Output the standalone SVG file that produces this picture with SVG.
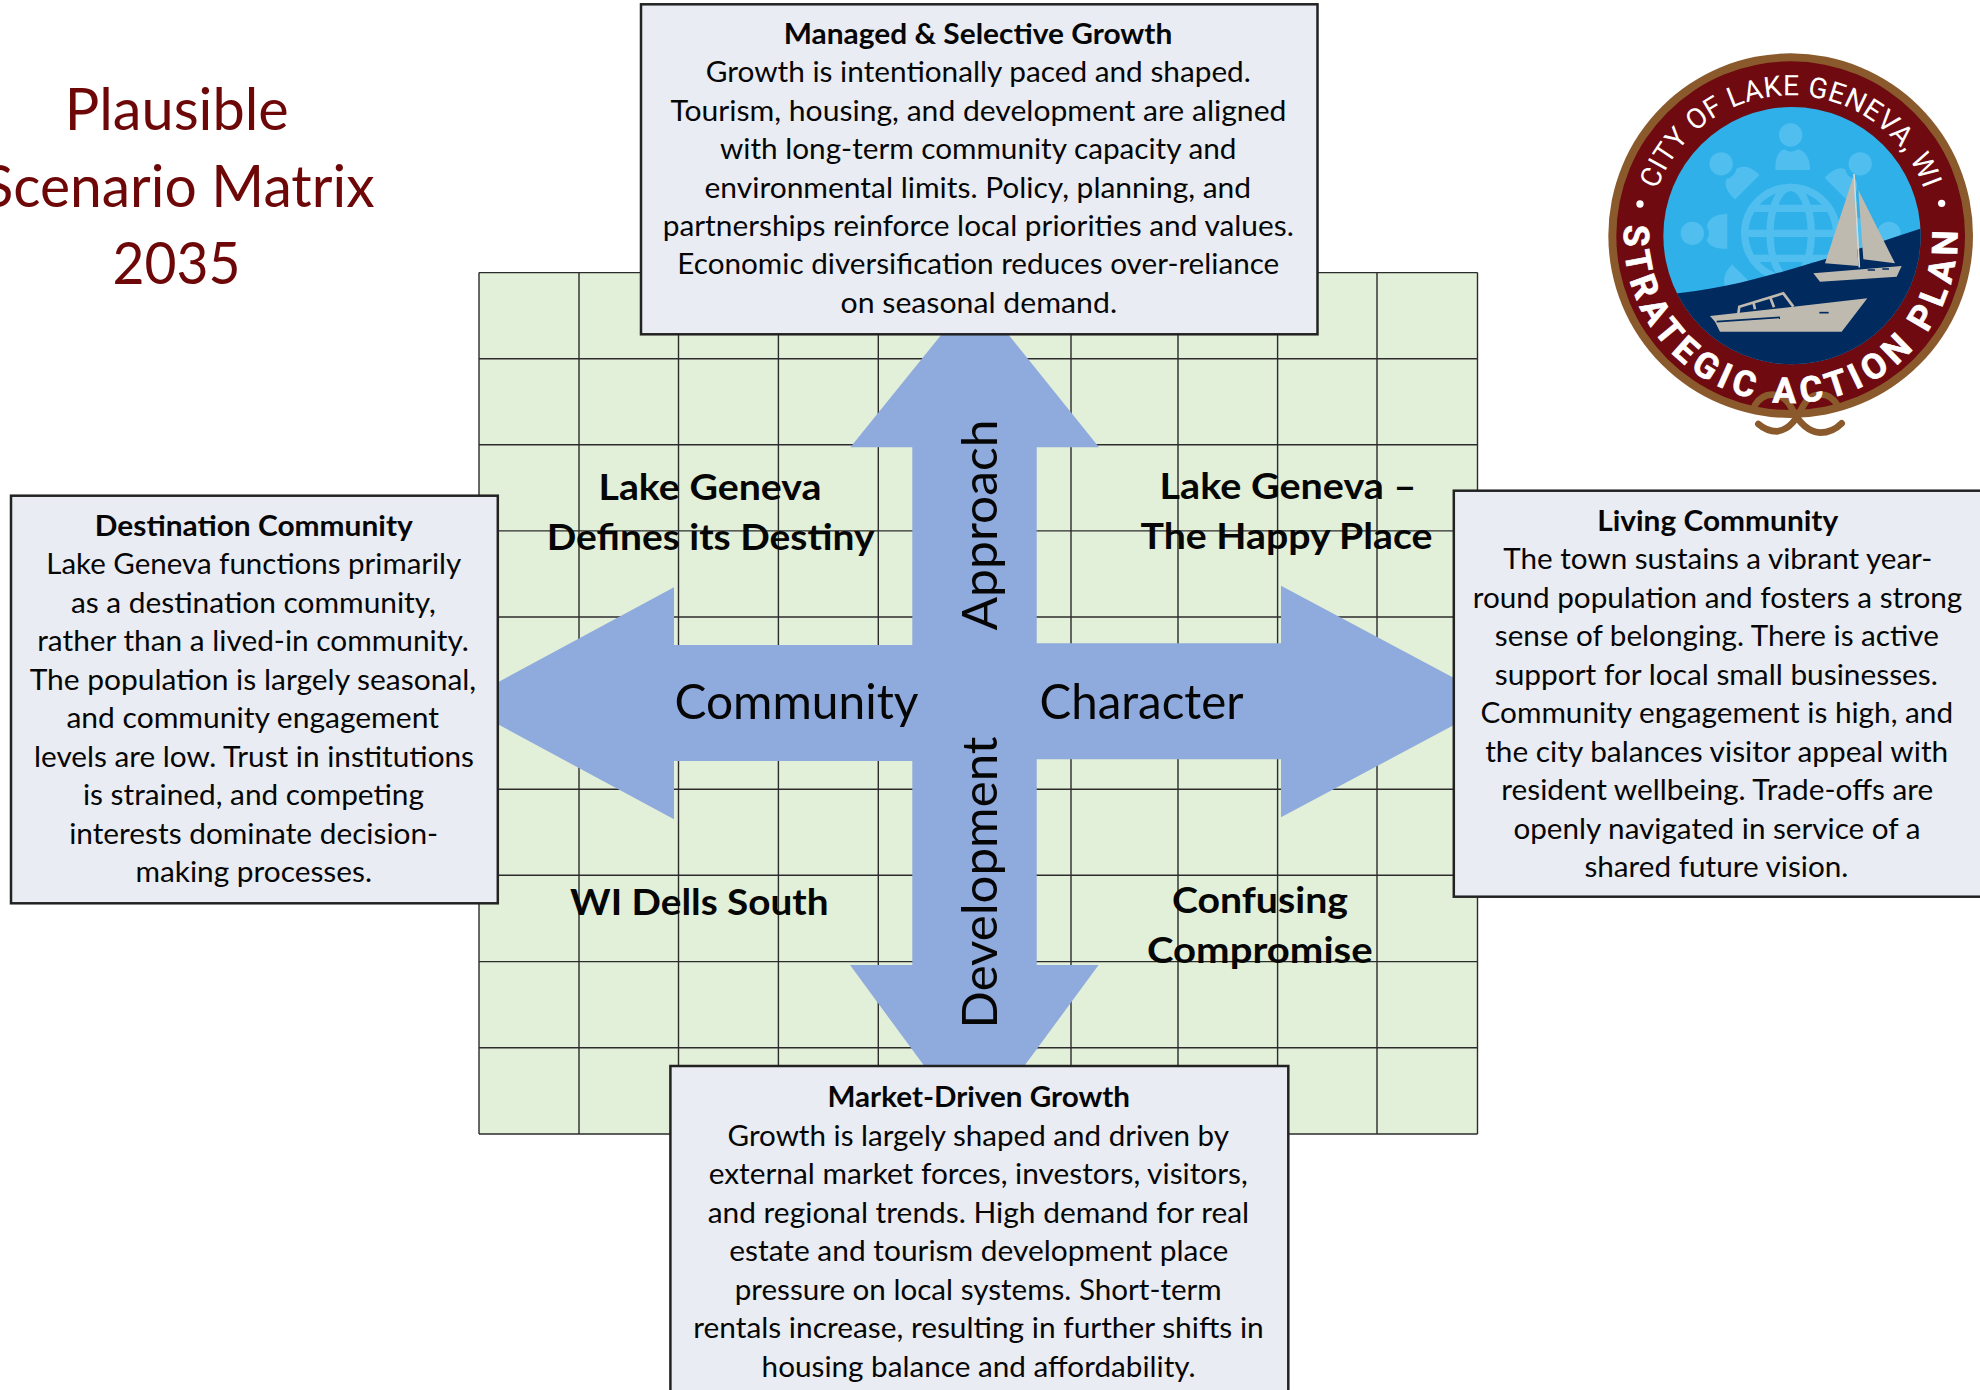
<svg xmlns="http://www.w3.org/2000/svg" width="1980" height="1390" viewBox="0 0 1980 1390">
<style>
text{font-family:"Lato","Carlito","Liberation Sans",sans-serif;fill:#060606;text-anchor:middle}
.b{font-size:28.3px}
.t{font-size:28.3px;font-weight:700}
.q{font-size:36px;font-weight:700}
.a{font-size:49px}
.h{font-size:58px;fill:#6e0808}
.box{fill:#e9ecf2;stroke:#222;stroke-width:2.5}
.g{stroke:#2c2c2c;stroke-width:1.4;fill:none}
.ic{fill:#50bff0}
.sg{fill:#bfbab0}
.rope{fill:none;stroke:#8a5a2c;stroke-linecap:round}
.lg{font-family:"Roboto","Liberation Sans",sans-serif;fill:#fff;text-anchor:middle}
</style>
<defs>
<g id="person"><circle cx="632" cy="315" r="35"/><path d="M586 420 Q584 368 612 358 Q632 372 654 358 Q690 368 690 420 Z"/></g>
<clipPath id="inner"><circle cx="636" cy="617" r="386"/></clipPath>
<path id="arcTop" d="M209 580 A425 425 0 0 1 1055 580"/>
<path id="arcBot" d="M137 548 A500 500 0 1 0 1127 548"/>
</defs>

<text class="h" x="176.8" y="130" textLength="224" lengthAdjust="spacingAndGlyphs">Plausible</text>
<text class="h" x="178.5" y="206.7" textLength="392" lengthAdjust="spacingAndGlyphs">Scenario Matrix</text>
<text class="h" x="176.4" y="284" textLength="128" lengthAdjust="spacingAndGlyphs">2035</text>

<g id="grid">
<rect x="479" y="272.6" width="998.5" height="861.4" fill="#e2efd9"/>
<path class="g" d="M479 272.6H1477.5M479 358.7H1477.5M479 444.8H1477.5M479 530.9H1477.5M479 617H1477.5M479 703H1477.5M479 789.2H1477.5M479 875.3H1477.5M479 961.6H1477.5M479 1047.7H1477.5M479 1134H1477.5"/>
<path class="g" d="M479 272.6V1134M579 272.6V1134M678.5 272.6V1134M778.4 272.6V1134M878.3 272.6V1134M978 272.6V1134M1071 272.6V1134M1178 272.6V1134M1277.6 272.6V1134M1377 272.6V1134M1477.5 272.6V1134"/>
</g>

<g id="connectors" fill="#8faadc">
<path d="M912.3 447.3H850.4L975 293L1099 447.3H1036.7V643.3H1281V585.7L1498 701.5L1281 817.3V759.3H1036.7V965H1098.6L974.3 1134L850 965H912.3V761H674V819.3L459 703.3L674 587.3V645H912.3Z"/>
</g>

<g id="axis-labels">
<text class="a" x="796.5" y="719" textLength="244" lengthAdjust="spacingAndGlyphs">Community</text>
<text class="a" x="1141.5" y="719" textLength="204" lengthAdjust="spacingAndGlyphs">Character</text>
<text class="a" transform="translate(996.5 525) rotate(-90)" textLength="211" lengthAdjust="spacingAndGlyphs">Approach</text>
<text class="a" transform="translate(996.5 882.5) rotate(-90)" textLength="292" lengthAdjust="spacingAndGlyphs">Development</text>
</g>

<g id="quadrant-nw" transform="translate(0 .6)">
<text class="q" x="710" y="499.3" textLength="223" lengthAdjust="spacingAndGlyphs">Lake Geneva</text>
<text class="q" x="710.6" y="549" textLength="327.7" lengthAdjust="spacingAndGlyphs">Defines its Destiny</text>
</g>
<g id="quadrant-ne" transform="translate(0 .6)">
<text class="q" x="1288" y="498.5" textLength="256.8" lengthAdjust="spacingAndGlyphs">Lake Geneva –</text>
<text class="q" x="1286.5" y="548" textLength="292" lengthAdjust="spacingAndGlyphs">The Happy Place</text>
</g>
<g id="quadrant-sw" transform="translate(0 .6)">
<text class="q" x="699.3" y="914.3" textLength="258.4" lengthAdjust="spacingAndGlyphs">WI Dells South</text>
</g>
<g id="quadrant-se" transform="translate(0 .6)">
<text class="q" x="1260" y="912.7" textLength="176" lengthAdjust="spacingAndGlyphs">Confusing</text>
<text class="q" x="1259.8" y="962.3" textLength="225.7" lengthAdjust="spacingAndGlyphs">Compromise</text>
</g>

<g id="node-top">
<rect class="box" x="641" y="4.3" width="676.5" height="330"/>
<g transform="translate(0 .8)">
<text class="t" x="978" y="43.3" textLength="388.5" lengthAdjust="spacingAndGlyphs">Managed &amp; Selective Growth</text>
<text class="b" x="978.3" y="81.7" textLength="545" lengthAdjust="spacingAndGlyphs">Growth is intentionally paced and shaped.</text>
<text class="b" x="978.4" y="120.1" textLength="616" lengthAdjust="spacingAndGlyphs">Tourism, housing, and development are aligned</text>
<text class="b" x="978.2" y="158.5" textLength="516.5" lengthAdjust="spacingAndGlyphs">with long-term community capacity and</text>
<text class="b" x="977.8" y="196.9" textLength="546.5" lengthAdjust="spacingAndGlyphs">environmental limits. Policy, planning, and</text>
<text class="b" x="978.2" y="235.3" textLength="631" lengthAdjust="spacingAndGlyphs">partnerships reinforce local priorities and values.</text>
<text class="b" x="978.3" y="273.7" textLength="602" lengthAdjust="spacingAndGlyphs">Economic diversification reduces over-reliance</text>
<text class="b" x="978.8" y="312.1" textLength="276.5" lengthAdjust="spacingAndGlyphs">on seasonal demand.</text>
</g>
</g>

<g id="node-left">
<rect class="box" x="11" y="495.7" width="486.8" height="407.6"/>
<g transform="translate(0 .8)">
<text class="t" x="253.8" y="535" textLength="318" lengthAdjust="spacingAndGlyphs">Destination Community</text>
<text class="b" x="253.8" y="573.3" textLength="415" lengthAdjust="spacingAndGlyphs">Lake Geneva functions primarily</text>
<text class="b" x="253.4" y="611.8" textLength="365" lengthAdjust="spacingAndGlyphs">as a destination community,</text>
<text class="b" x="253" y="650.3" textLength="431.5" lengthAdjust="spacingAndGlyphs">rather than a lived-in community.</text>
<text class="b" x="252.9" y="688.8" textLength="446.5" lengthAdjust="spacingAndGlyphs">The population is largely seasonal,</text>
<text class="b" x="252.7" y="727.3" textLength="372.5" lengthAdjust="spacingAndGlyphs">and community engagement</text>
<text class="b" x="254" y="765.8" textLength="440" lengthAdjust="spacingAndGlyphs">levels are low. Trust in institutions</text>
<text class="b" x="253.4" y="804.3" textLength="341" lengthAdjust="spacingAndGlyphs">is strained, and competing</text>
<text class="b" x="253.7" y="842.8" textLength="369" lengthAdjust="spacingAndGlyphs">interests dominate decision-</text>
<text class="b" x="253.7" y="881.3" textLength="236.5" lengthAdjust="spacingAndGlyphs">making processes.</text>
</g>
</g>

<g id="node-right">
<rect class="box" x="1453.8" y="490.7" width="540" height="406"/>
<g transform="translate(0 .8)">
<text class="t" x="1717.7" y="530" textLength="241" lengthAdjust="spacingAndGlyphs">Living Community</text>
<text class="b" x="1717.8" y="568.3" textLength="429" lengthAdjust="spacingAndGlyphs">The town sustains a vibrant year-</text>
<text class="b" x="1717.5" y="606.8" textLength="489.5" lengthAdjust="spacingAndGlyphs">round population and fosters a strong</text>
<text class="b" x="1716.8" y="645.3" textLength="444" lengthAdjust="spacingAndGlyphs">sense of belonging. There is active</text>
<text class="b" x="1716.3" y="683.8" textLength="443" lengthAdjust="spacingAndGlyphs">support for local small businesses.</text>
<text class="b" x="1716.8" y="722.3" textLength="472.5" lengthAdjust="spacingAndGlyphs">Community engagement is high, and</text>
<text class="b" x="1716.7" y="760.8" textLength="463" lengthAdjust="spacingAndGlyphs">the city balances visitor appeal with</text>
<text class="b" x="1717.3" y="799.3" textLength="432" lengthAdjust="spacingAndGlyphs">resident wellbeing. Trade-offs are</text>
<text class="b" x="1716.9" y="837.8" textLength="407" lengthAdjust="spacingAndGlyphs">openly navigated in service of a</text>
<text class="b" x="1716.4" y="876.3" textLength="264" lengthAdjust="spacingAndGlyphs">shared future vision.</text>
</g>
</g>

<g id="node-bottom">
<rect class="box" x="670.4" y="1066" width="617.9" height="340"/>
<g transform="translate(0 .8)">
<text class="t" x="978.7" y="1106.7" textLength="302.5" lengthAdjust="spacingAndGlyphs">Market-Driven Growth</text>
<text class="b" x="978.3" y="1145" textLength="501.5" lengthAdjust="spacingAndGlyphs">Growth is largely shaped and driven by</text>
<text class="b" x="978.2" y="1183.5" textLength="539" lengthAdjust="spacingAndGlyphs">external market forces, investors, visitors,</text>
<text class="b" x="978.4" y="1222" textLength="541.5" lengthAdjust="spacingAndGlyphs">and regional trends. High demand for real</text>
<text class="b" x="978.7" y="1260.5" textLength="499" lengthAdjust="spacingAndGlyphs">estate and tourism development place</text>
<text class="b" x="978.2" y="1299" textLength="487" lengthAdjust="spacingAndGlyphs">pressure on local systems. Short-term</text>
<text class="b" x="978.5" y="1337.5" textLength="570.5" lengthAdjust="spacingAndGlyphs">rentals increase, resulting in further shifts in</text>
<text class="b" x="978.6" y="1376" textLength="434" lengthAdjust="spacingAndGlyphs">housing balance and affordability.</text>
</g>
</g>

<g id="logo" transform="translate(1580 30) scale(.33333)">
<circle cx="632" cy="617" r="547" fill="#8a5a2c"/>
<circle cx="632" cy="617" r="523" fill="#6e0a10"/>
<circle cx="636" cy="617" r="386" fill="#2fb0e8"/>
<g clip-path="url(#inner)">
<g class="ic">
<use href="#person"/>
<use href="#person" transform="rotate(-45 632 610)"/>
<use href="#person" transform="rotate(45 632 610)"/>
<use href="#person" transform="rotate(-90 632 610)"/>
<use href="#person" transform="rotate(90 632 610)"/>
<use href="#person" transform="rotate(-135 632 610)"/>
</g>
<g fill="none" stroke="#50bff0" stroke-width="22">
<circle cx="632" cy="610" r="138"/>
<ellipse cx="632" cy="610" rx="62" ry="138"/>
<path d="M498 610H766M518 535H746M518 685H746"/>
</g>
<path d="M240 795C450 780 620 720 760 680C860 650 950 620 1040 590V1010H240Z" fill="#012a5e"/>
</g>
<g id="sailboat">
<path class="sg" d="M820 440L735 700L835 708Z"/>
<path class="sg" d="M835 480L945 700L850 688Z"/>
<path d="M822 432L838 712" stroke="#d8d8d0" stroke-width="5" fill="none"/>
<path class="sg" d="M700 730L965 708L950 740L720 755Z"/>
<path d="M863 720h22M907 717h20" stroke="#012a5e" stroke-width="4"/>
</g>
<g id="motorboat">
<path class="sg" d="M390 858L640 830L862 805L785 905L420 905L405 875Z"/>
<path d="M475 850L478 830L610 790L640 830M525 838L520 815M582 832L570 800" fill="none" stroke="#bfbab0" stroke-width="8"/>
<path d="M410 875L600 862" stroke="#012a5e" stroke-width="5"/>
<path d="M718 848h28" stroke="#012a5e" stroke-width="5"/>
</g>
<circle cx="180" cy="522" r="11" fill="#fff"/>
<circle cx="1085" cy="520" r="11" fill="#fff"/>
<g id="rope" class="rope" stroke-width="20">
<path d="M525 1125C555 1080 610 1085 635 1135C655 1175 680 1205 720 1208C750 1208 770 1195 785 1180"/>
<path d="M772 1125C745 1080 690 1085 668 1130C650 1165 630 1200 590 1204C565 1204 550 1195 535 1182"/>
</g>
<text class="lg" font-size="85" letter-spacing="1.5"><textPath href="#arcTop" startOffset="50%">CITY OF LAKE GENEVA, WI</textPath></text>
<text class="lg" font-size="106" font-weight="700" letter-spacing="17.5" stroke="#fff" stroke-width="2"><textPath href="#arcBot" startOffset="50%">STRATEGIC ACTION PLAN</textPath></text>
</g>
</svg>
